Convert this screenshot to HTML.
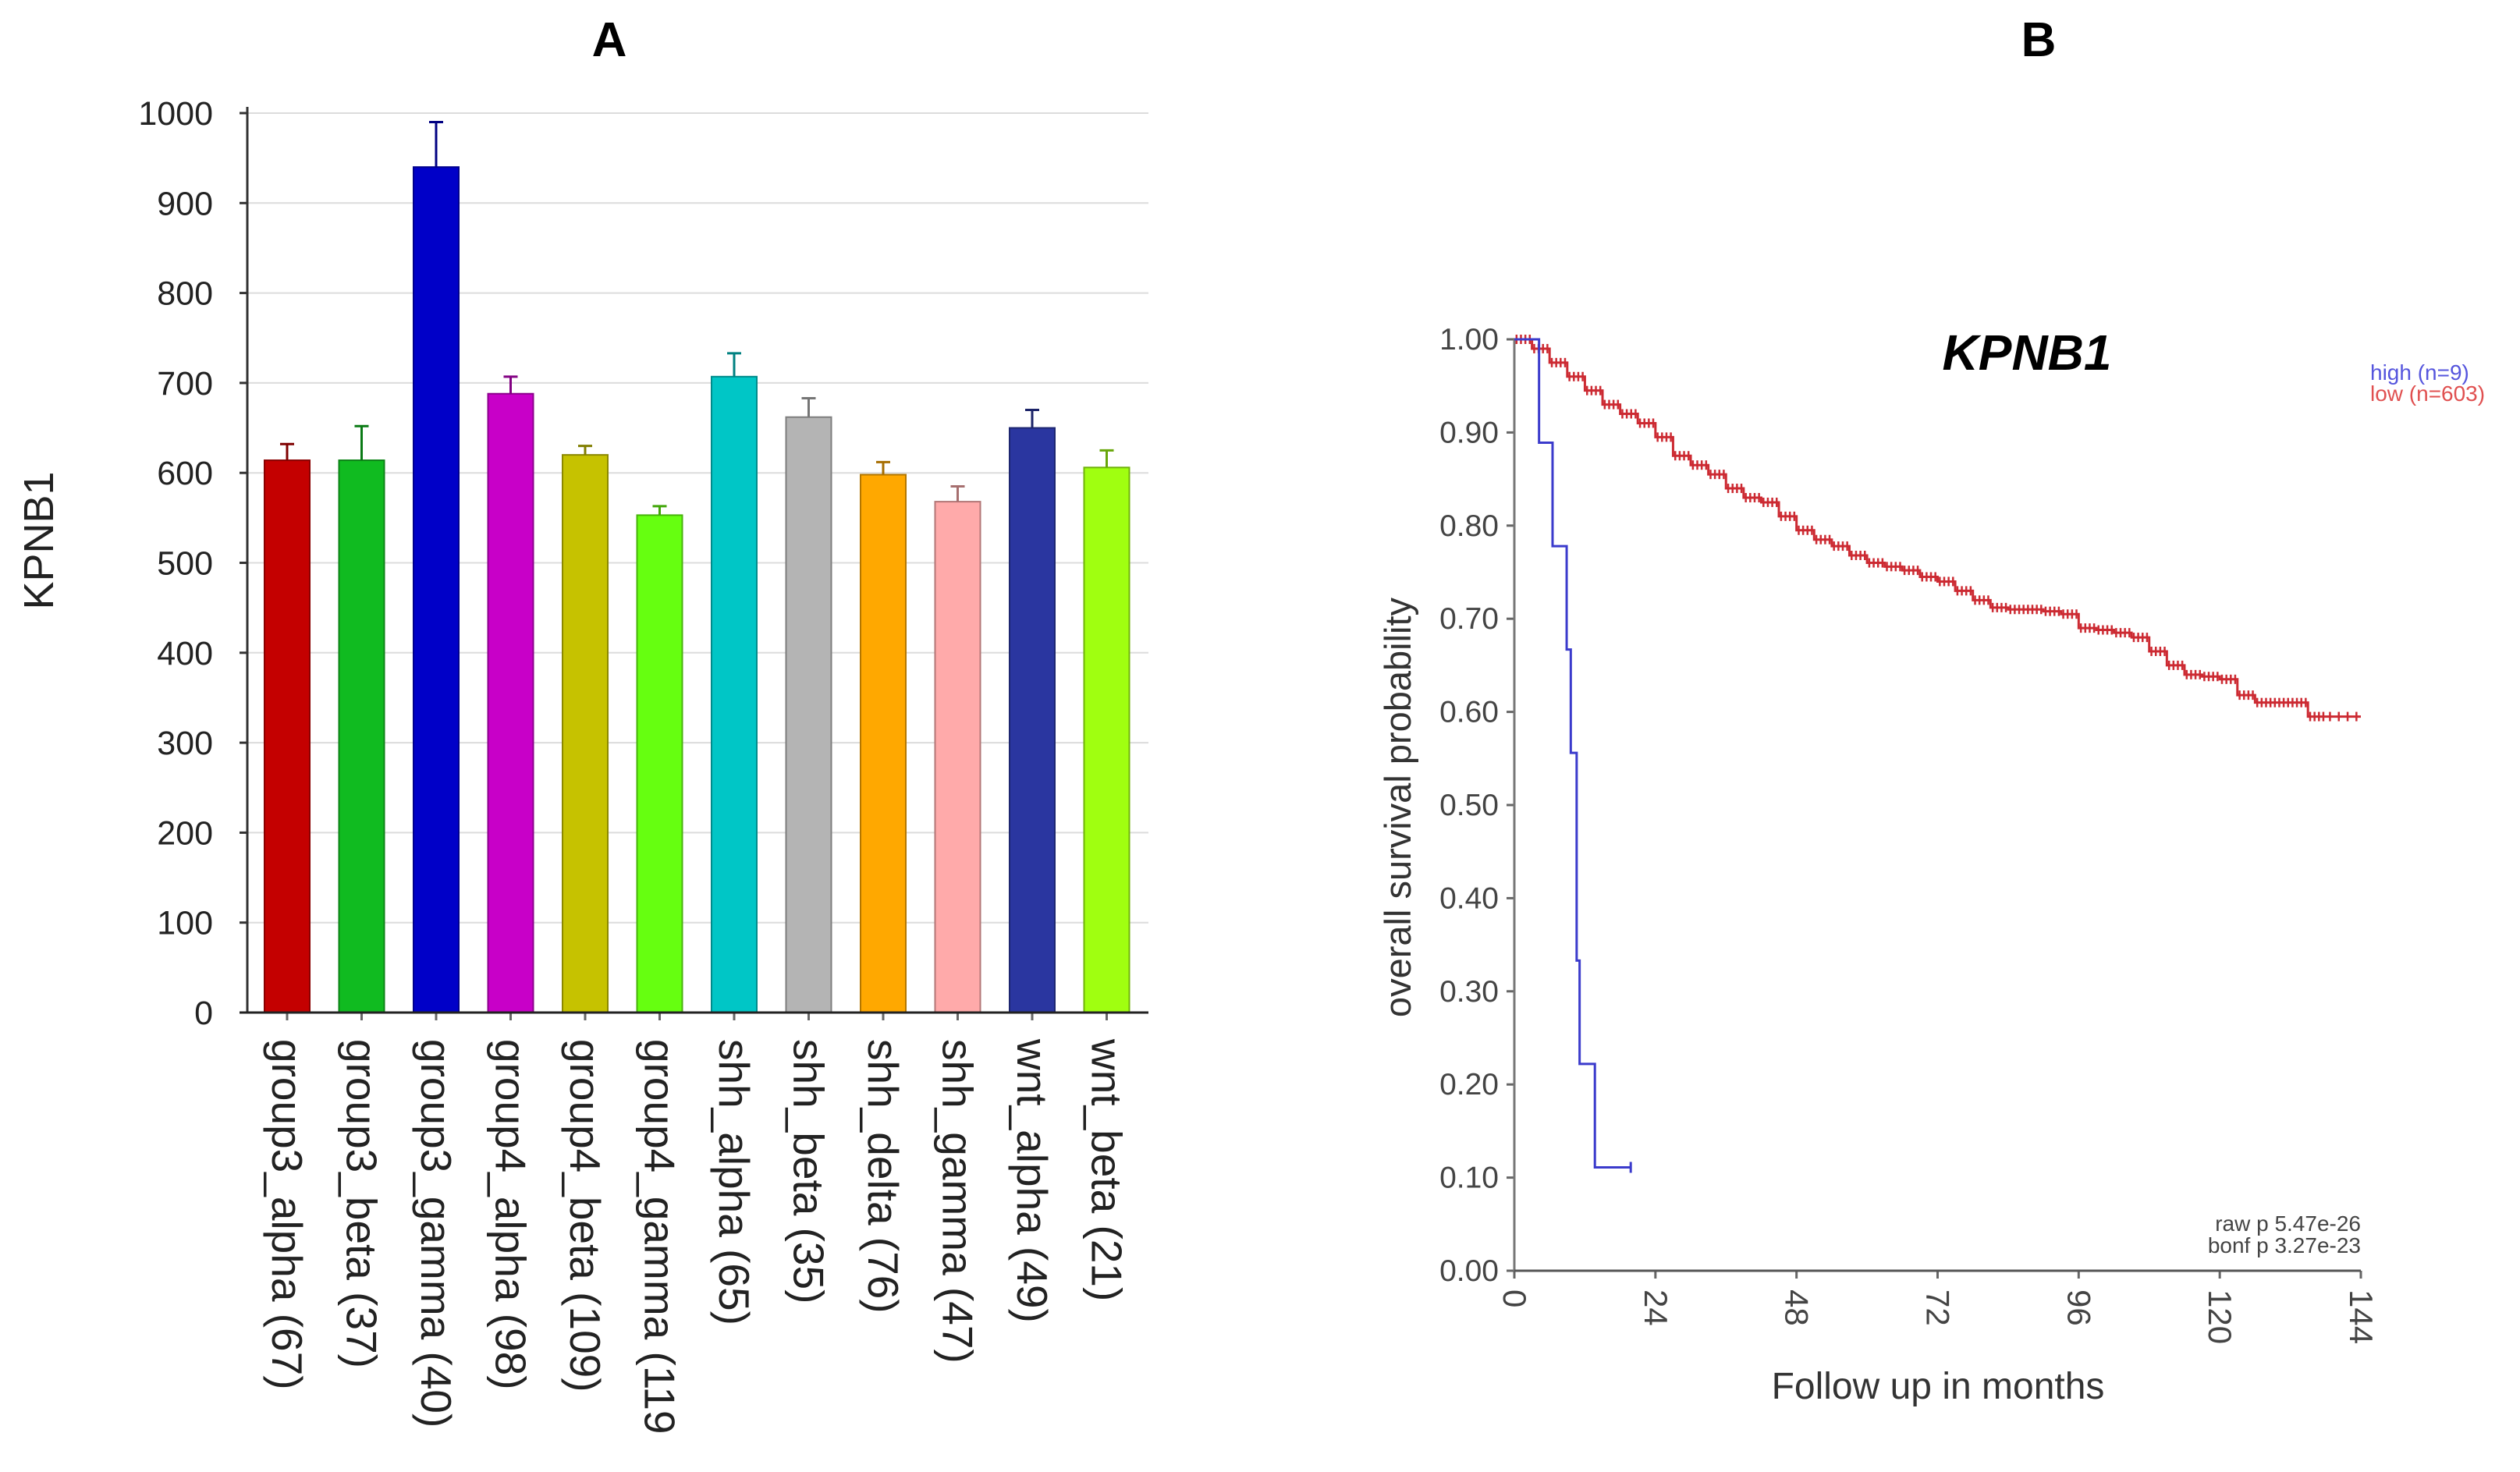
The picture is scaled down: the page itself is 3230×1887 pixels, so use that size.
<!DOCTYPE html>
<html><head><meta charset="utf-8"><style>
html,body{margin:0;padding:0;background:#fff;}
svg{display:block;font-family:"Liberation Sans",Arial,sans-serif;}
</style></head><body>
<svg id="fig" width="3230" height="1887" viewBox="0 0 3230 1887" xmlns="http://www.w3.org/2000/svg">
<g id="chartA"></g>
<g id="chartB"></g>
</svg>
<script>
// ---- Chart A data ----
const categories = ["group3_alpha (67)","group3_beta (37)","group3_gamma (40)","group4_alpha (98)","group4_beta (109)","group4_gamma (119","shh_alpha (65)","shh_beta (35)","shh_delta (76)","shh_gamma (47)","wnt_alpha (49)","wnt_beta (21)"];
const barValues = [614, 614, 940, 688, 620, 553, 707, 662, 598, 568, 650, 606];
const errorTops = [632, 652, 990, 707, 630, 563, 733, 683, 612, 585, 670, 625];
const barColors = ["#c40000","#10bb20","#0000c8","#c800c8","#c6c200","#66ff10","#00c6c6","#b4b4b4","#ffa800","#ffaaaa","#2a36a0","#a0ff10"];
const yTicksA = [0,100,200,300,400,500,600,700,800,900,1000];
// ---- Chart B data ----
const highTimes = [0, 4.2, 6.5, 8.9, 9.6, 10.6, 11.1, 13.7, 19.8];
const highSurv  = [1.0, 0.889, 0.778, 0.667, 0.556, 0.333, 0.222, 0.111, 0.111];
const lowTimes = [0,3,6,9,12,15,18,21,24,27,30,33,36,39,42,45,48,51,54,57,60,63,66,69,72,75,78,81,84,87,90,93,96,99,102,105,108,111,114,117,120,123,126,129,132,135,138,144];
const lowSurv  = [1.0,0.99,0.975,0.96,0.945,0.93,0.92,0.91,0.895,0.875,0.865,0.855,0.84,0.83,0.825,0.81,0.795,0.785,0.778,0.768,0.76,0.756,0.752,0.745,0.74,0.73,0.72,0.712,0.71,0.71,0.708,0.705,0.69,0.688,0.685,0.68,0.665,0.65,0.64,0.638,0.635,0.618,0.61,0.61,0.61,0.595,0.595,0.595];
const xTicksB = [0,24,48,72,96,120,144];
const yTicksB = [0,0.1,0.2,0.3,0.4,0.5,0.6,0.7,0.8,0.9,1.0];

const NS="http://www.w3.org/2000/svg";
function mk(parent, tag, attrs, text){
  const e=document.createElementNS(NS,tag);
  for(const k in attrs) e.setAttribute(k,attrs[k]);
  if(text!==undefined) e.textContent=text;
  parent.appendChild(e); return e;
}
function darker(hex,f){const n=parseInt(hex.slice(1),16);const r=Math.round(((n>>16)&255)*f),g=Math.round(((n>>8)&255)*f),b=Math.round((n&255)*f);return `rgb(${r},${g},${b})`;}

// ---- Chart A ----
const A=document.getElementById('chartA');
const aL=317,aR=1472,aTop=145,aBot=1298,aMax=1000;
const ya=v=>aBot-(v/aMax)*(aBot-aTop);
const step=95.5, x0=368, bw=58;
const xa=i=>x0+i*step;
let t=mk(A,'text',{x:781,y:72,'font-size':62,'font-weight':'bold','text-anchor':'middle',fill:'#000'},'A');


yTicksA.forEach(v=>{
  const g=mk(A,'line',{x1:aL,x2:aR,y1:ya(v),y2:ya(v),stroke:'#dcdcdc','stroke-width':2});
  
  
  mk(A,'line',{x1:aL-10,x2:aL,y1:ya(v),y2:ya(v),stroke:'#333','stroke-width':3});
  const l=mk(A,'text',{x:aL-44,y:ya(v)+15,'font-size':43,'text-anchor':'end',fill:'#222'},String(v));
  
  
});
t=mk(A,'text',{x:0,y:0,'font-size':54,'text-anchor':'middle',fill:'#222',transform:'translate(68,693) rotate(-90)'},'KPNB1');


categories.forEach((c,i)=>{
  const cx=xa(i);
  const r=mk(A,'rect',{x:cx-bw/2,y:ya(barValues[i]),width:bw,height:aBot-ya(barValues[i]),fill:barColors[i],stroke:darker(barColors[i],0.7),'stroke-width':2});
  
  
  const ec=darker(barColors[i],0.65);
  const e=mk(A,'path',{d:`M${cx},${ya(barValues[i])}V${ya(errorTops[i])}M${cx-9},${ya(errorTops[i])}H${cx+9}`,stroke:ec,'stroke-width':3,fill:'none'});
  
  
  mk(A,'line',{x1:cx,x2:cx,y1:aBot,y2:aBot+10,stroke:'#666','stroke-width':3});
  const l=mk(A,'text',{x:0,y:0,'font-size':55,fill:'#222',transform:`translate(${cx-19},${aBot+34}) rotate(90)`},c);
  
  
});
mk(A,'line',{x1:aL,x2:aL,y1:aTop-8,y2:aBot,stroke:'#333','stroke-width':3});
mk(A,'line',{x1:aL-10,x2:aR,y1:aBot,y2:aBot,stroke:'#222','stroke-width':3});

// ---- Chart B ----
const B=document.getElementById('chartB');
const bL=1941,bR=3026,bTop=435,bBot=1629,bXMax=144;
const xb=m=>bL+(m/bXMax)*(bR-bL);
const yb=p=>bBot-p*(bBot-bTop);
t=mk(B,'text',{x:2613,y:72,'font-size':62,'font-weight':'bold','text-anchor':'middle',fill:'#000'},'B');


t=mk(B,'text',{x:2598,y:474,'font-size':64,'font-weight':'bold','font-style':'italic','text-anchor':'middle',fill:'#000'},'KPNB1');


yTicksB.forEach(p=>{
  mk(B,'line',{x1:bL-10,x2:bL,y1:yb(p),y2:yb(p),stroke:'#666','stroke-width':3});
  const l=mk(B,'text',{x:bL-20,y:yb(p)+13,'font-size':39,'text-anchor':'end',fill:'#444'},p.toFixed(2));
  
  
});
xTicksB.forEach(m=>{
  mk(B,'line',{x1:xb(m),x2:xb(m),y1:bBot,y2:bBot+10,stroke:'#666','stroke-width':3});
  const l=mk(B,'text',{x:0,y:0,'font-size':42,fill:'#444',transform:`translate(${xb(m)-14},${bBot+24}) rotate(90)`},String(m));
  
  
});
mk(B,'line',{x1:bL,x2:bL,y1:bTop,y2:bBot,stroke:'#777','stroke-width':3});
mk(B,'line',{x1:bL,x2:bR,y1:bBot,y2:bBot,stroke:'#555','stroke-width':3});
t=mk(B,'text',{x:0,y:0,'font-size':47,'text-anchor':'middle',fill:'#333',transform:'translate(1808,1035) rotate(-90)'},'overall survival probability');


t=mk(B,'text',{x:2484,y:1793,'font-size':48,'text-anchor':'middle',fill:'#333'},'Follow up in months');


function stepPath(ts,ss){let d=`M${xb(ts[0])},${yb(ss[0])}`;for(let i=1;i<ts.length;i++){d+=`H${xb(ts[i])}V${yb(ss[i])}`;}return d;}
let p=mk(B,'path',{d:stepPath(lowTimes,lowSurv),stroke:'#cc2a32',fill:'none','stroke-width':3});


for(let i=0;i<lowTimes.length-1;i++){
  const y=yb(lowSurv[i]);
  for(let k=0;k<4;k++){
    const m=lowTimes[i]+(lowTimes[i+1]-lowTimes[i])*(k+0.5)/4;
    mk(B,'line',{x1:xb(m),x2:xb(m),y1:y-6,y2:y+6,stroke:'#cc2a32','stroke-width':2.5});
  }
}
p=mk(B,'path',{d:stepPath(highTimes,highSurv),stroke:'#3b3bcc',fill:'none','stroke-width':3});


const lt=highTimes[highTimes.length-1];
mk(B,'line',{x1:xb(lt),x2:xb(lt),y1:yb(0.111)-7,y2:yb(0.111)+7,stroke:'#3b3bcc','stroke-width':3});
t=mk(B,'text',{x:3038,y:487,'font-size':28,fill:'#5555dd'},'high (n=9)');


t=mk(B,'text',{x:3038,y:514,'font-size':28,fill:'#e05050'},'low (n=603)');


t=mk(B,'text',{x:3026,y:1578,'font-size':28,'text-anchor':'end',fill:'#444'},'raw p 5.47e-26');


t=mk(B,'text',{x:3026,y:1606,'font-size':28,'text-anchor':'end',fill:'#444'},'bonf p 3.27e-23');


</script>
</body></html>
